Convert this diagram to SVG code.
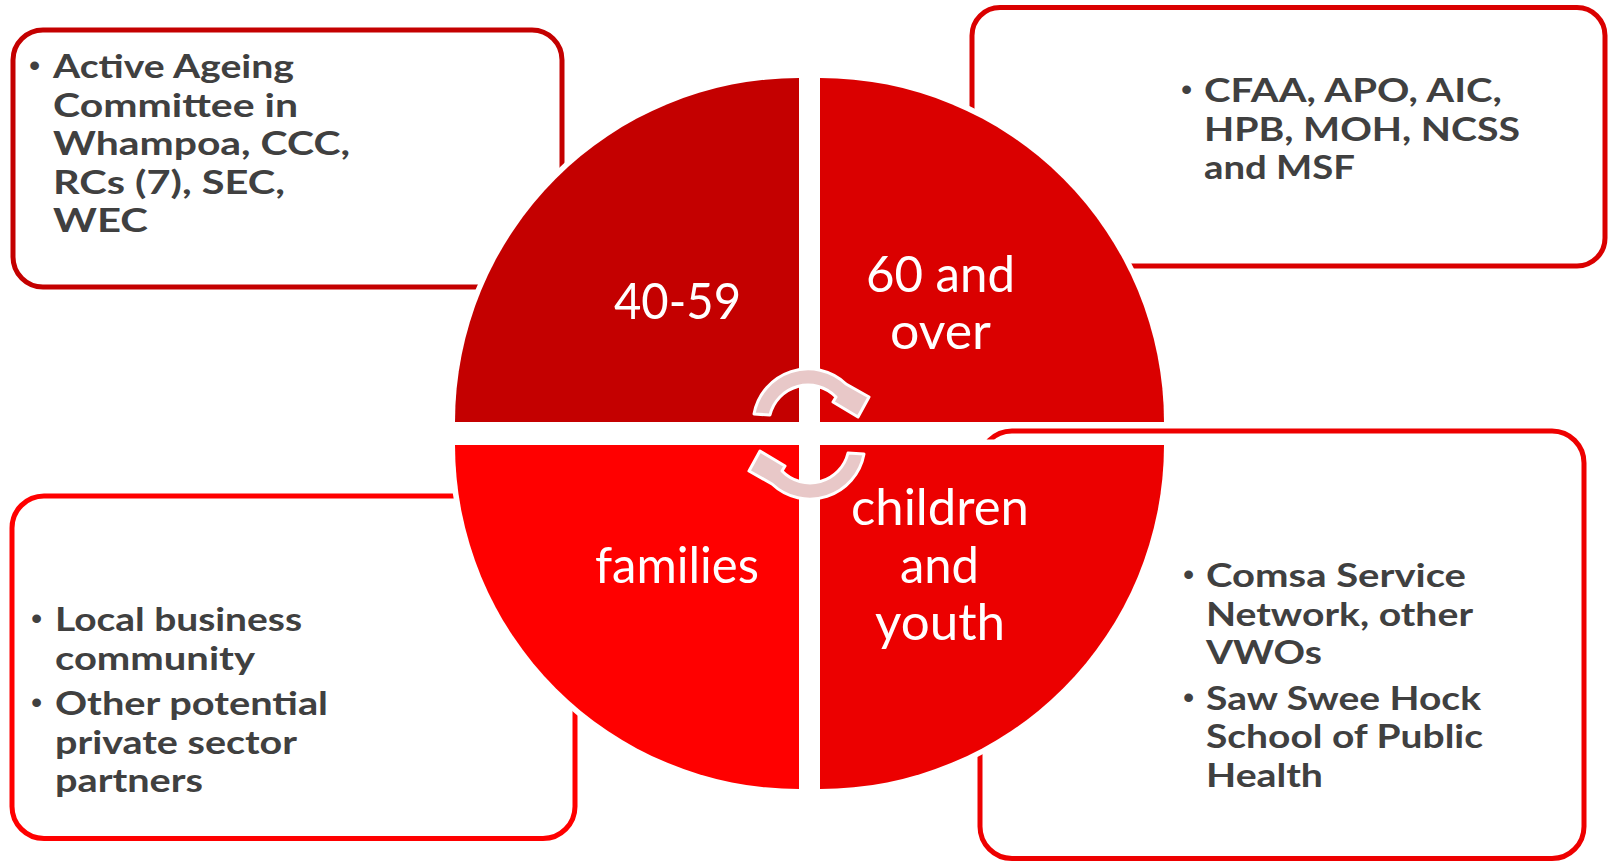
<svg xmlns="http://www.w3.org/2000/svg" width="1608" height="865" viewBox="0 0 1608 865">
<style>
.box{fill:#ffffff;stroke-width:5}
.bt{font-family:Lato,"Open Sans","Liberation Sans",sans-serif;font-weight:700;font-size:32px;fill:#404040}
.bul{font-family:"Liberation Sans",Arial,sans-serif;font-size:32px;fill:#404040}
.halo{fill:none;stroke:#ffffff;stroke-width:11;stroke-linejoin:round}
.lbl{font-family:Lato,"Open Sans","Liberation Sans",sans-serif;font-size:50px;fill:#ffffff}
.arr{fill:#E8C8C8;stroke:#ffffff;stroke-width:3;stroke-linejoin:round}
</style>
<g id="box-top-left">
<rect class="box" x="13" y="30" width="549" height="257" rx="30" stroke="#C40000"/>
<text class="bul" x="29" y="76">•</text>
<text class="bt" x="53" y="78" textLength="241" lengthAdjust="spacingAndGlyphs">Active Ageing</text>
<text class="bt" x="53" y="116.5" textLength="245" lengthAdjust="spacingAndGlyphs">Committee in</text>
<text class="bt" x="53" y="155" textLength="297" lengthAdjust="spacingAndGlyphs">Whampoa, CCC,</text>
<text class="bt" x="53" y="193.5" textLength="232" lengthAdjust="spacingAndGlyphs">RCs (7), SEC,</text>
<text class="bt" x="53" y="232" textLength="95" lengthAdjust="spacingAndGlyphs">WEC</text>
</g>
<g id="box-top-right">
<rect class="box" x="972" y="7.5" width="633" height="258.5" rx="28" stroke="#DA0000"/>
<text class="bul" x="1181" y="100">•</text>
<text class="bt" x="1204" y="102" textLength="298" lengthAdjust="spacingAndGlyphs">CFAA, APO, AIC,</text>
<text class="bt" x="1204" y="140.5" textLength="316" lengthAdjust="spacingAndGlyphs">HPB, MOH, NCSS</text>
<text class="bt" x="1204" y="179" textLength="151" lengthAdjust="spacingAndGlyphs">and MSF</text>
</g>
<g id="box-bottom-left">
<rect class="box" x="12" y="496" width="563" height="342.5" rx="32" stroke="#FF0000"/>
<text class="bul" x="31" y="629">•</text>
<text class="bul" x="31" y="713">•</text>
<text class="bt" x="55" y="631" textLength="247" lengthAdjust="spacingAndGlyphs">Local business</text>
<text class="bt" x="55" y="669.5" textLength="200" lengthAdjust="spacingAndGlyphs">community</text>
<text class="bt" x="55" y="715" textLength="273" lengthAdjust="spacingAndGlyphs">Other potential</text>
<text class="bt" x="55" y="753.5" textLength="242" lengthAdjust="spacingAndGlyphs">private sector</text>
<text class="bt" x="55" y="792" textLength="148" lengthAdjust="spacingAndGlyphs">partners</text>
</g>
<g id="box-bottom-right">
<rect class="box" x="980" y="431" width="604" height="427.5" rx="32" stroke="#EE0000"/>
<text class="bul" x="1183" y="585">•</text>
<text class="bul" x="1183" y="708">•</text>
<text class="bt" x="1206" y="587" textLength="260" lengthAdjust="spacingAndGlyphs">Comsa Service</text>
<text class="bt" x="1206" y="625.5" textLength="267" lengthAdjust="spacingAndGlyphs">Network, other</text>
<text class="bt" x="1206" y="664" textLength="116" lengthAdjust="spacingAndGlyphs">VWOs</text>
<text class="bt" x="1206" y="709.5" textLength="275" lengthAdjust="spacingAndGlyphs">Saw Swee Hock</text>
<text class="bt" x="1206" y="748" textLength="277" lengthAdjust="spacingAndGlyphs">School of Public</text>
<text class="bt" x="1206" y="786.5" textLength="117" lengthAdjust="spacingAndGlyphs">Health</text>
</g>
<g id="circle-halo">
<path class="halo" d="M799,422 L455,422 A344,344 0 0 1 799,78 Z"/>
<path class="halo" d="M820,422 L820,78 A344,344 0 0 1 1164,422 Z"/>
<path class="halo" d="M820,445 L1164,445 A344,344 0 0 1 820,789 Z"/>
<path class="halo" d="M799,445 L799,789 A344,344 0 0 1 455,445 Z"/>
</g>
<g id="q-40-59">
<path d="M799,422 L455,422 A344,344 0 0 1 799,78 Z" fill="#C40000"/>
<text class="lbl" x="614" y="319" textLength="127" lengthAdjust="spacingAndGlyphs">40-59</text>
</g>
<g id="q-60-over">
<path d="M820,422 L820,78 A344,344 0 0 1 1164,422 Z" fill="#DA0000"/>
<text class="lbl" x="866" y="292" textLength="149" lengthAdjust="spacingAndGlyphs">60 and</text>
<text class="lbl" x="890" y="349" textLength="101" lengthAdjust="spacingAndGlyphs">over</text>
</g>
<g id="q-children-youth">
<path d="M820,445 L1164,445 A344,344 0 0 1 820,789 Z" fill="#EC0000"/>
<text class="lbl" x="851" y="525" textLength="178" lengthAdjust="spacingAndGlyphs">children</text>
<text class="lbl" x="900" y="582.5" textLength="79" lengthAdjust="spacingAndGlyphs">and</text>
<text class="lbl" x="875" y="640" textLength="130" lengthAdjust="spacingAndGlyphs">youth</text>
</g>
<g id="q-families">
<path d="M799,445 L799,789 A344,344 0 0 1 455,445 Z" fill="#FF0000"/>
<text class="lbl" x="595" y="583" textLength="164" lengthAdjust="spacingAndGlyphs">families</text>
</g>
<g id="connectors">
<path class="arr" d="M754,414 A55,55 0 0 1 846,384 L869,397 L858,417 L833,402 L836,397 A39,39 0 0 0 770,415 Z"/>
<path class="arr" d="M864,454 A55,55 0 0 1 772,484 L749,471 L760,451 L785,466 L782,471 A39,39 0 0 0 848,453 Z"/>
</g>
</svg>
